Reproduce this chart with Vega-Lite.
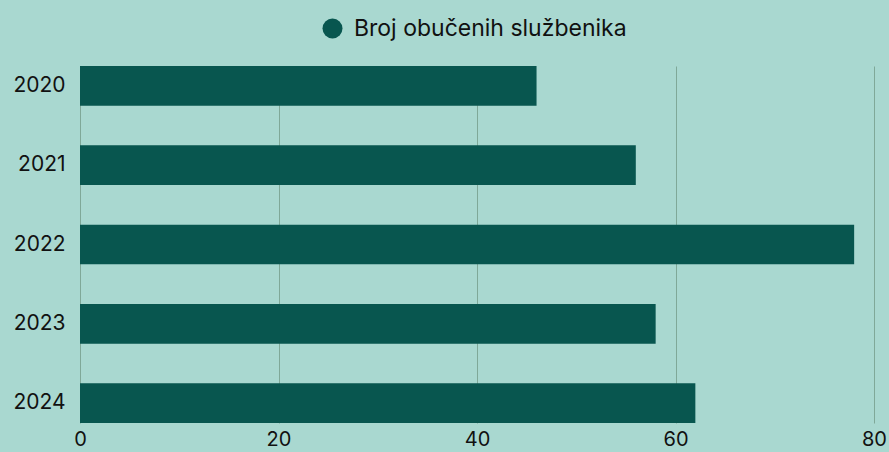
{
  "$schema": "https://vega.github.io/schema/vega-lite/v6.json",
  "width": 794,
  "height": 357,
  "autosize": {"type": "none"},
  "padding": {"left": 80, "top": 66, "right": 15, "bottom": 29},
  "background": "#a9d8d0",
  "config": {
    "view": {"stroke": null},
    "font": "Inter",
    "axis": {"labelFont": "Inter", "labelColor": "#111111", "labelFontSize": 21, "domain": false, "ticks": false}
  },
  "data": {
    "values": [
      {"year": "2020", "value": 46, "series": "Broj obučenih službenika"},
      {"year": "2021", "value": 56, "series": "Broj obučenih službenika"},
      {"year": "2022", "value": 78, "series": "Broj obučenih službenika"},
      {"year": "2023", "value": 58, "series": "Broj obučenih službenika"},
      {"year": "2024", "value": 62, "series": "Broj obučenih službenika"}
    ]
  },
  "mark": {"type": "bar"},
  "encoding": {
    "y": {
      "field": "year", "type": "nominal", "title": null,
      "scale": {"paddingInner": 0.5, "paddingOuter": 0},
      "axis": {"labelPadding": 15, "grid": false}
    },
    "x": {
      "field": "value", "type": "quantitative", "title": null,
      "scale": {"domain": [0, 80], "nice": false},
      "axis": {"values": [0, 20, 40, 60, 80], "grid": true, "gridColor": "#7fa898", "gridWidth": 1, "labelPadding": 6, "labelFontSize": 20, "labelFlush": false}
    },
    "color": {
      "field": "series", "type": "nominal", "title": null,
      "scale": {"range": ["#08564f"]},
      "legend": {
        "orient": "none", "legendX": 241, "legendY": -49,
        "symbolType": "circle", "symbolSize": 400, "symbolStrokeWidth": 0,
        "labelFont": "Inter", "labelFontSize": 23, "labelColor": "#111111", "labelOffset": 10,
        "labelLimit": 0,
        "direction": "horizontal"
      }
    }
  }
}
